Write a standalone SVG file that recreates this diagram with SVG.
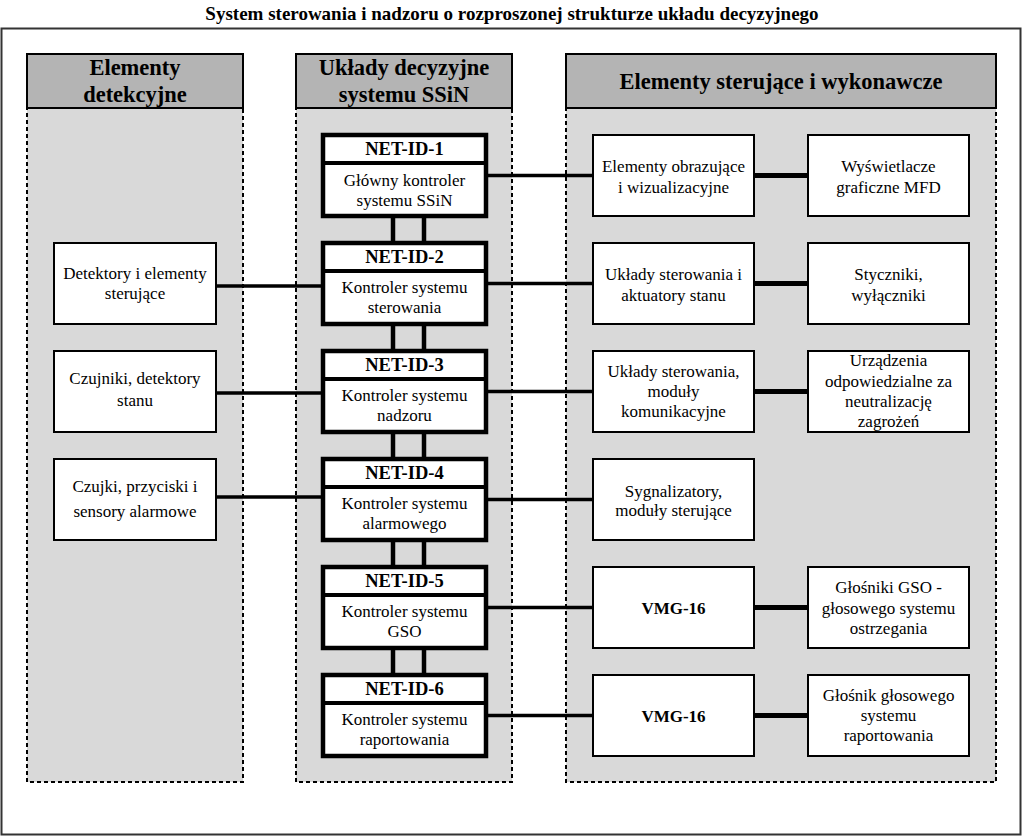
<svg xmlns="http://www.w3.org/2000/svg" width="1024" height="837" viewBox="0 0 1024 837">
<style>
text{font-family:"Liberation Serif","Times New Roman",serif;fill:#000;text-anchor:middle}
.title{font-size:19px;font-weight:bold}
.hdr{font-size:22.5px;font-weight:bold}
.net{font-size:18.5px;font-weight:bold}
.t{font-size:17px}
.b{font-size:17px;font-weight:bold}
.colhead{fill:#b4b4b4;stroke:#000;stroke-width:2}
.colbody{fill:#d9d9d9;stroke:#000;stroke-width:2;stroke-dasharray:4 3}
.box{fill:#fff;stroke:#000;stroke-width:2}
.netbox{fill:#fff;stroke:#000;stroke-width:4.5}
.c{stroke:#000;stroke-width:3.5;fill:none}
.cw{stroke:#000;stroke-width:5;fill:none}
.v{stroke:#000;stroke-width:4.5;fill:none}
</style>
<rect x="0" y="0" width="1024" height="837" fill="#fff"/>
<text class="title" x="512" y="20">System sterowania i nadzoru o rozproszonej strukturze układu decyzyjnego</text>
<rect x="1.5" y="28.5" width="1019" height="806" fill="none" stroke="#333" stroke-width="2"/>

<g id="col-detection">
<rect class="colbody" x="27" y="108" width="216" height="674"/>
<rect class="colhead" x="27" y="54" width="216" height="54"/>
<text class="hdr" x="135" y="75">Elementy</text>
<text class="hdr" x="135" y="102">detekcyjne</text>
</g>
<g id="col-decision">
<rect class="colbody" x="296" y="108" width="216" height="674"/>
<rect class="colhead" x="296" y="54" width="216" height="54"/>
<text class="hdr" x="404" y="75">Układy decyzyjne</text>
<text class="hdr" x="404" y="102">systemu SSiN</text>
</g>
<g id="col-exec">
<rect class="colbody" x="566" y="108" width="430" height="674"/>
<rect class="colhead" x="566" y="54" width="430" height="54"/>
<text class="hdr" x="781" y="89">Elementy sterujące i wykonawcze</text>
</g>

<g id="connectors">
<line class="v" x1="393" y1="216" x2="393" y2="243"/><line class="v" x1="424" y1="216" x2="424" y2="243"/>
<line class="v" x1="393" y1="324" x2="393" y2="351"/><line class="v" x1="424" y1="324" x2="424" y2="351"/>
<line class="v" x1="393" y1="432" x2="393" y2="459"/><line class="v" x1="424" y1="432" x2="424" y2="459"/>
<line class="v" x1="393" y1="540" x2="393" y2="567"/><line class="v" x1="424" y1="540" x2="424" y2="567"/>
<line class="v" x1="393" y1="648" x2="393" y2="675"/><line class="v" x1="424" y1="648" x2="424" y2="675"/>
<line class="c" x1="486" y1="175.5" x2="593" y2="175.5"/>
<line class="c" x1="486" y1="283.5" x2="593" y2="283.5"/>
<line class="c" x1="486" y1="391.5" x2="593" y2="391.5"/>
<line class="c" x1="486" y1="499.5" x2="593" y2="499.5"/>
<line class="c" x1="486" y1="607.5" x2="593" y2="607.5"/>
<line class="c" x1="486" y1="715.5" x2="593" y2="715.5"/>
<line class="c" x1="216" y1="286" x2="323" y2="286"/>
<line class="c" x1="216" y1="393" x2="323" y2="393"/>
<line class="c" x1="216" y1="497" x2="323" y2="497"/>
<line class="cw" x1="754" y1="175.5" x2="808" y2="175.5"/>
<line class="cw" x1="754" y1="283.5" x2="808" y2="283.5"/>
<line class="cw" x1="754" y1="391.5" x2="808" y2="391.5"/>
<line class="cw" x1="754" y1="607.5" x2="808" y2="607.5"/>
<line class="cw" x1="754" y1="715.5" x2="808" y2="715.5"/>
</g>

<g id="net1">
<rect class="netbox" x="323" y="135" width="163" height="81"/>
<line x1="323" y1="163" x2="486" y2="163" stroke="#000" stroke-width="4"/>
<text class="net" x="404.5" y="155">NET-ID-1</text>
<text class="t" x="404.5" y="186">Główny kontroler</text>
<text class="t" x="404.5" y="206">systemu SSiN</text>
</g>
<g id="net2">
<rect class="netbox" x="323" y="243" width="163" height="81"/>
<line x1="323" y1="271" x2="486" y2="271" stroke="#000" stroke-width="4"/>
<text class="net" x="404.5" y="263">NET-ID-2</text>
<text class="t" x="404.5" y="293">Kontroler systemu</text>
<text class="t" x="404.5" y="313">sterowania</text>
</g>
<g id="net3">
<rect class="netbox" x="323" y="351" width="163" height="81"/>
<line x1="323" y1="379" x2="486" y2="379" stroke="#000" stroke-width="4"/>
<text class="net" x="404.5" y="371">NET-ID-3</text>
<text class="t" x="404.5" y="401">Kontroler systemu</text>
<text class="t" x="404.5" y="421">nadzoru</text>
</g>
<g id="net4">
<rect class="netbox" x="323" y="459" width="163" height="81"/>
<line x1="323" y1="487" x2="486" y2="487" stroke="#000" stroke-width="4"/>
<text class="net" x="404.5" y="479">NET-ID-4</text>
<text class="t" x="404.5" y="509">Kontroler systemu</text>
<text class="t" x="404.5" y="529">alarmowego</text>
</g>
<g id="net5">
<rect class="netbox" x="323" y="567" width="163" height="81"/>
<line x1="323" y1="595" x2="486" y2="595" stroke="#000" stroke-width="4"/>
<text class="net" x="404.5" y="587">NET-ID-5</text>
<text class="t" x="404.5" y="617">Kontroler systemu</text>
<text class="t" x="404.5" y="637">GSO</text>
</g>
<g id="net6">
<rect class="netbox" x="323" y="675" width="163" height="81"/>
<line x1="323" y1="703" x2="486" y2="703" stroke="#000" stroke-width="4"/>
<text class="net" x="404.5" y="695">NET-ID-6</text>
<text class="t" x="404.5" y="725">Kontroler systemu</text>
<text class="t" x="404.5" y="745">raportowania</text>
</g>

<g id="det1">
<rect class="box" x="54" y="243" width="162" height="81"/>
<text class="t" x="135" y="279">Detektory i elementy</text>
<text class="t" x="135" y="299">sterujące</text>
</g>
<g id="det2">
<rect class="box" x="54" y="351" width="162" height="81"/>
<text class="t" x="135" y="384">Czujniki, detektory</text>
<text class="t" x="135" y="406">stanu</text>
</g>
<g id="det3">
<rect class="box" x="54" y="459" width="162" height="81"/>
<text class="t" x="135" y="492">Czujki, przyciski i</text>
<text class="t" x="135" y="517">sensory alarmowe</text>
</g>

<g id="ex1a">
<rect class="box" x="593" y="135" width="161" height="81"/>
<text class="t" x="673.5" y="172">Elementy obrazujące</text>
<text class="t" x="673.5" y="193">i wizualizacyjne</text>
</g>
<g id="ex1b">
<rect class="box" x="808" y="135" width="161" height="81"/>
<text class="t" x="888.5" y="172">Wyświetlacze</text>
<text class="t" x="888.5" y="193">graficzne MFD</text>
</g>
<g id="ex2a">
<rect class="box" x="593" y="243" width="161" height="81"/>
<text class="t" x="673.5" y="280">Układy sterowania i</text>
<text class="t" x="673.5" y="301">aktuatory stanu</text>
</g>
<g id="ex2b">
<rect class="box" x="808" y="243" width="161" height="81"/>
<text class="t" x="888.5" y="280">Styczniki,</text>
<text class="t" x="888.5" y="301">wyłączniki</text>
</g>
<g id="ex3a">
<rect class="box" x="593" y="351" width="161" height="81"/>
<text class="t" x="673.5" y="377">Układy sterowania,</text>
<text class="t" x="673.5" y="397">moduły</text>
<text class="t" x="673.5" y="417">komunikacyjne</text>
</g>
<g id="ex3b">
<rect class="box" x="808" y="351" width="161" height="81"/>
<text class="t" x="888.5" y="366">Urządzenia</text>
<text class="t" x="888.5" y="387">odpowiedzialne za</text>
<text class="t" x="888.5" y="407">neutralizację</text>
<text class="t" x="888.5" y="427">zagrożeń</text>
</g>
<g id="ex4a">
<rect class="box" x="593" y="459" width="161" height="81"/>
<text class="t" x="673.5" y="497">Sygnalizatory,</text>
<text class="t" x="673.5" y="516">moduły sterujące</text>
</g>
<g id="ex5a">
<rect class="box" x="593" y="567" width="161" height="81"/>
<text class="b" x="673.5" y="614">VMG-16</text>
</g>
<g id="ex5b">
<rect class="box" x="808" y="567" width="161" height="81"/>
<text class="t" x="888.5" y="593">Głośniki GSO -</text>
<text class="t" x="888.5" y="614">głosowego systemu</text>
<text class="t" x="888.5" y="634">ostrzegania</text>
</g>
<g id="ex6a">
<rect class="box" x="593" y="675" width="161" height="81"/>
<text class="b" x="673.5" y="722">VMG-16</text>
</g>
<g id="ex6b">
<rect class="box" x="808" y="675" width="161" height="81"/>
<text class="t" x="888.5" y="701">Głośnik głosowego</text>
<text class="t" x="888.5" y="721">systemu</text>
<text class="t" x="888.5" y="741">raportowania</text>
</g>
</svg>
